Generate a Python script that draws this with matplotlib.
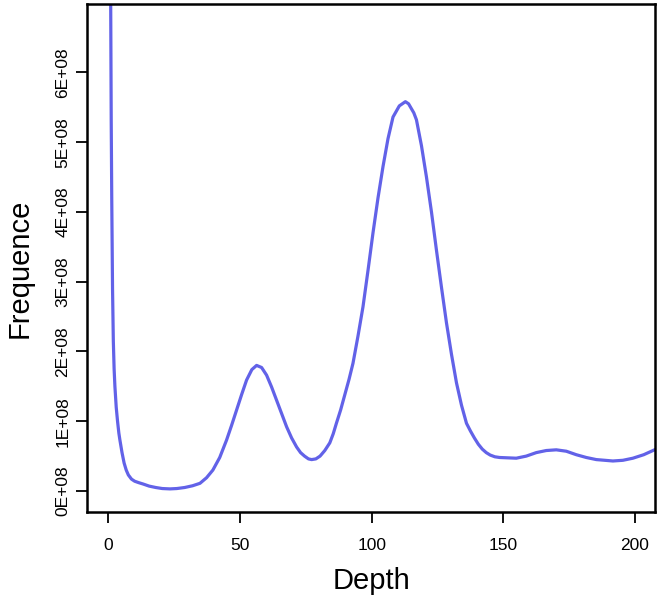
import matplotlib
matplotlib.use('Agg')
import matplotlib.pyplot as plt

plt.rcParams['font.family'] = ['Liberation Sans', 'DejaVu Sans']

# depth values
depth = [0.7, 0.9, 1.1, 1.3, 1.6, 1.9, 2.2, 2.5, 3.0, 3.5, 4.0, 4.4, 5.2, 6.0,
         6.8, 7.6, 8.8, 10.0, 11.5, 13.2, 15.5, 18.0, 20.5, 23.4, 26.0, 29.0,
         32.0, 34.8, 37.3, 39.7, 42.3, 44.9, 46.8, 48.7, 50.6, 52.5, 54.5,
         56.3, 58.2, 60.1, 62.0, 63.9, 65.8, 67.7, 69.6, 71.5, 73.0, 74.5,
         76.0, 77.2, 78.8, 80.4, 82.2, 84.1, 85.4, 86.6, 88.2, 89.8, 91.4,
         92.9, 94.8, 96.7, 98.6, 100.5, 102.4, 104.3, 106.2, 108.1, 110.5,
         112.8, 114.0, 116.0, 117.0, 118.9, 120.8, 122.7, 124.6, 126.5,
         128.4, 130.3, 132.2, 134.1, 136.0, 137.5, 139.0, 140.5, 142.0,
         143.5, 145.0, 146.8, 148.6, 151.7, 154.9, 158.7, 162.5, 166.3,
         170.1, 173.9, 177.7, 181.5, 185.3, 188.5, 191.6, 195.4, 199.2,
         203.3, 207.4, 210.0]
# frequence in units of 1E+08
freq = [9.5, 7.0, 5.3, 4.2, 2.9, 2.15, 1.75, 1.5, 1.2, 1.0, 0.83, 0.73, 0.55, 0.40,
        0.30, 0.23, 0.17, 0.14, 0.12, 0.10, 0.07, 0.05, 0.035, 0.03, 0.035, 0.05,
        0.075, 0.11, 0.19, 0.30, 0.48, 0.73, 0.94, 1.16, 1.38, 1.59, 1.74,
        1.80, 1.77, 1.66, 1.49, 1.30, 1.11, 0.92, 0.76, 0.63, 0.55, 0.50,
        0.46, 0.45, 0.46, 0.50, 0.58, 0.69, 0.82, 0.97, 1.16, 1.38, 1.60,
        1.83, 2.22, 2.64, 3.16, 3.70, 4.20, 4.65, 5.05, 5.36, 5.52,
        5.58, 5.55, 5.42, 5.32, 4.95, 4.50, 4.00, 3.45, 2.92,
        2.41, 1.96, 1.55, 1.23, 0.97, 0.86, 0.76, 0.67, 0.60,
        0.55, 0.515, 0.49, 0.48, 0.475, 0.47, 0.50, 0.55, 0.58,
        0.59, 0.57, 0.52, 0.48, 0.45, 0.44, 0.43, 0.44, 0.47,
        0.52, 0.59, 0.63]

xticks = [0, 50, 100, 150, 200]
yticks = [0, 1, 2, 3, 4, 5, 6]
ylabels = ['%dE+08' % v for v in yticks]

fig = plt.figure(figsize=(6.61, 5.98), dpi=100)
ax = fig.add_axes([0.132, 0.1443, 0.859, 0.849])

ax.plot(depth, [f * 1e8 for f in freq], color='#6262e8', lw=2.3,
        solid_joinstyle='round')

ax.set_xlim(-8, 207.6)
ax.set_ylim(-0.297e8, 6.98e8)

ax.set_xticks(xticks)
ax.set_xticklabels([str(t) for t in xticks], fontsize=12.5)
ax.set_yticks([v * 1e8 for v in yticks])
ax.set_yticklabels(ylabels, fontsize=12.5, rotation=90, va='center')

for s in ax.spines.values():
    s.set_linewidth(1.8)
ax.tick_params(direction='out', length=8, width=1.3)
ax.tick_params(axis='x', pad=11)
ax.tick_params(axis='y', pad=4)

ax.set_xlabel('Depth', fontsize=21, labelpad=10)
ax.set_ylabel('Frequence', fontsize=21, va='center')
ax.yaxis.set_label_coords(-0.119, 0.48)

fig.savefig('out.png', dpi=100)
